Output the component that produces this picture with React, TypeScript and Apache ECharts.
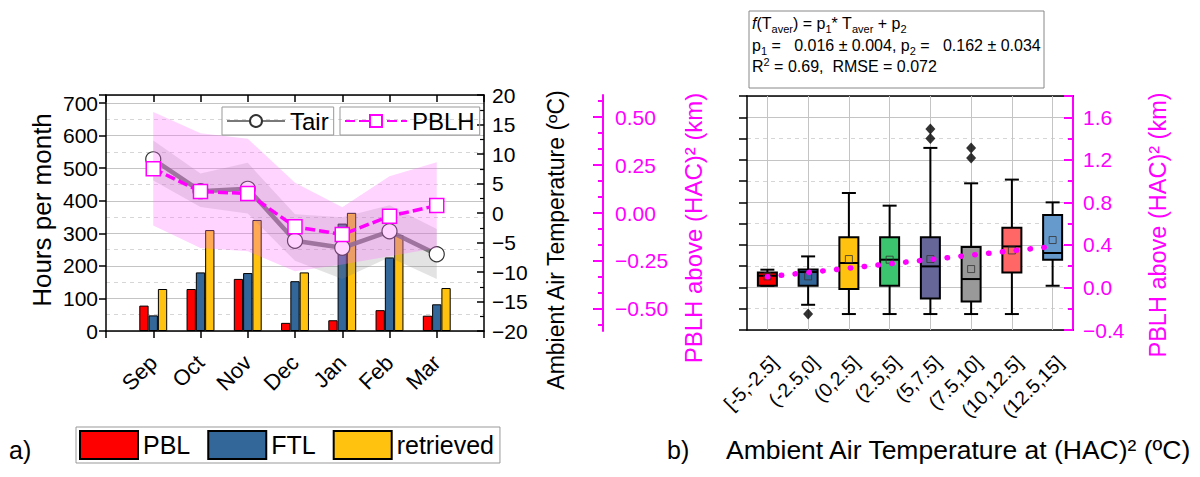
import React, { useEffect, useRef } from 'react';
import * as echarts from 'echarts';

// ---------- Panel a) data ----------
const MONTHS = ['Sep', 'Oct', 'Nov', 'Dec', 'Jan', 'Feb', 'Mar'];
const PBL = [78, 129, 160, 25, 33, 64, 47];
const FTL = [48, 180, 178, 153, 330, 226, 82];
const RETRIEVED = [129, 310, 341, 180, 363, 295, 132];
const TAIR = [9.1, 3.7, 4.1, -4.7, -5.9, -3.1, -7.0];
const TAIR_HI = [12.3, 6.7, 8.5, -0.2, -0.7, 1.3, -2.7];
const TAIR_LO = [5.5, 1.0, -0.1, -8.1, -11.2, -7.5, -11.2];
const PBLH = [0.231, 0.112, 0.102, -0.072, -0.112, -0.017, 0.039];
const PBLH_HI = [0.526, 0.415, 0.387, 0.158, 0.03, 0.192, 0.265];
const PBLH_LO = [-0.065, -0.182, -0.199, -0.304, -0.269, -0.225, -0.182];
const MAG_MAJOR = [-0.5, -0.25, 0, 0.25, 0.5];
const MAG_MINOR = [-0.5833, -0.4167, -0.3333, -0.1667, -0.0833, 0.0833, 0.1667, 0.3333, 0.4167, 0.5833];

// ---------- Panel b) data ----------
const CATS = ['[-5,-2.5]', '(-2.5,0]', '(0,2.5]', '(2.5,5]', '(5,7.5]', '(7.5,10]', '(10,12.5]', '(12.5,15]'];
const BOX_MIN = [0.016, -0.163, -0.25, -0.25, -0.25, -0.25, -0.25, 0.016];
const BOX_Q1 = [0.016, 0.016, -0.015, 0.016, -0.103, -0.132, 0.141, 0.261];
const BOX_MED = [0.11, 0.145, 0.23, 0.261, 0.198, 0.079, 0.386, 0.324];
const BOX_Q3 = [0.141, 0.169, 0.471, 0.471, 0.471, 0.38, 0.562, 0.681];
const BOX_MAX = [0.167, 0.292, 0.888, 0.769, 1.312, 0.979, 1.014, 0.8];
const BOX_MEAN = [0.104, 0.104, 0.267, 0.261, 0.267, 0.173, 0.348, 0.446];
const OUTLIERS = [[1, -0.25], [4, 1.4], [4, 1.49], [5, 1.218], [5, 1.312]];
const FIT_ENDS = [0.1, 0.385];
const BOX_COLORS = ['#FF0000', '#336699', '#FFC20E', '#3CC46E', '#666699', '#999999', '#FF6666', '#6699CC'];

const FONT = 'Liberation Sans, Arial, Helvetica, sans-serif';
const MAGENTA = '#FF00FF';
const minus = (s: string) => s.replace('-', '\u2212');
const pad = (a: number[]) => ['-', ...a, '-'];

export default function App() {
  const ref = useRef<HTMLDivElement>(null);
  useEffect(() => {
    if (!ref.current) return;
    const chart = echarts.init(ref.current, null, { renderer: 'svg' });
    const monthCats = ['', ...MONTHS, ''];
    const black = { color: '#000', width: 1.5 };

    const option: any = {
      animation: false,
      textStyle: { fontFamily: FONT },
      grid: [
        { left: 106, top: 95, width: 378, height: 236 },
        { left: 747, top: 96, width: 326, height: 234 },
      ],
      legend: [
        {
          data: ['Tair'], left: 222, top: 107, selectedMode: false,
          borderColor: '#999', borderWidth: 1, padding: [2, 5, 2, 4],
          itemWidth: 58, itemHeight: 15, textStyle: { fontSize: 24, color: '#000', fontFamily: FONT },
        },
        {
          data: ['PBLH'], left: 340, top: 107, selectedMode: false,
          borderColor: '#999', borderWidth: 1, padding: [2, 5, 2, 4],
          itemWidth: 62, itemHeight: 15, textStyle: { fontSize: 24, color: '#000', fontFamily: FONT },
        },
        {
          data: ['PBL', 'FTL', 'retrieved'], left: 76, top: 427, selectedMode: false, icon: 'rect',
          borderColor: '#999', borderWidth: 1, padding: [3, 6, 3, 3], itemGap: 17,
          itemWidth: 58, itemHeight: 28, textStyle: { fontSize: 25, color: '#000', fontFamily: FONT },
        },
      ],
      xAxis: [
        {
          type: 'category', gridIndex: 0, data: monthCats, boundaryGap: false, position: 'bottom',
          axisLine: { onZero: false, lineStyle: black },
          axisTick: { length: 7, lineStyle: black },
          axisLabel: { rotate: 45, fontSize: 22, color: '#000', margin: 28, interval: 0, fontFamily: FONT },
          splitLine: { show: false },
        },
        {
          type: 'category', gridIndex: 0, data: monthCats, boundaryGap: false, position: 'top',
          axisLine: { onZero: false, lineStyle: black },
          axisTick: { inside: true, length: 7, lineStyle: black },
          axisLabel: { show: false }, splitLine: { show: false },
        },
        {
          type: 'category', gridIndex: 1, data: CATS, position: 'bottom',
          axisLine: { onZero: false, lineStyle: black },
          axisTick: { alignWithLabel: true, length: 8, lineStyle: black },
          axisLabel: {
            rotate: 45, fontSize: 19.5, color: '#000', margin: 22, interval: 0, fontFamily: FONT,
            align: 'right', verticalAlign: 'top',
          },
          splitLine: { show: false },
        },
        {
          type: 'category', gridIndex: 1, data: CATS, position: 'top',
          axisLine: { onZero: false, lineStyle: black },
          axisTick: { alignWithLabel: true, inside: true, length: 8, lineStyle: black },
          axisLabel: { show: false }, splitLine: { show: false },
        },
      ],
      yAxis: [
        // 0 grid0 dashed gridlines
        {
          type: 'value', gridIndex: 0, position: 'left', min: 0, max: 725, interval: 50,
          axisLine: { show: false, onZero: false }, axisTick: { show: false }, axisLabel: { show: false },
          splitLine: { show: true, lineStyle: { color: '#d6d6d6', type: [4, 4], width: 1 } },
        },
        // 1 hours
        {
          type: 'value', gridIndex: 0, position: 'left', min: 0, max: 725, interval: 100,
          axisLine: { show: true, onZero: false, lineStyle: black },
          axisTick: { show: true, length: 7, lineStyle: black },
          axisLabel: {
            fontSize: 21, color: '#000', margin: 8, fontFamily: FONT,
            formatter: (v: number) => (v % 100 === 0 && v <= 700 ? String(v) : ''),
          },
          splitLine: { show: true, lineStyle: { color: '#c4c4c4', width: 1 } },
        },
        // 2 temperature
        {
          type: 'value', gridIndex: 0, position: 'right', min: -20, max: 20, interval: 5,
          axisLine: { show: true, onZero: false, lineStyle: black },
          axisTick: { show: true, inside: true, length: 7, lineStyle: black },
          minorTick: { show: true, splitNumber: 2, length: 4, lineStyle: { color: '#000', width: 1.2 } },
          axisLabel: { fontSize: 21, color: '#000', margin: 8, fontFamily: FONT, formatter: (v: number) => minus(String(v)) },
          splitLine: { show: false },
        },
        // 3 magenta major (panel a)
        {
          type: 'value', gridIndex: 0, position: 'right', offset: 119, min: -0.615, max: 0.615,
          axisLine: { show: true, onZero: false, lineStyle: { color: MAGENTA, width: 2 } },
          axisTick: { show: true, inside: true, length: 10, customValues: MAG_MAJOR, lineStyle: { color: MAGENTA, width: 2 } },
          axisLabel: {
            customValues: MAG_MAJOR, fontSize: 21, color: MAGENTA, margin: 12, fontFamily: FONT,
            formatter: (v: number) => minus(v.toFixed(2)),
          },
          splitLine: { show: false },
        },
        // 4 magenta minor (panel a)
        {
          type: 'value', gridIndex: 0, position: 'right', offset: 119, min: -0.615, max: 0.615,
          axisLine: { show: false, onZero: false },
          axisTick: { show: true, inside: true, length: 5, customValues: MAG_MINOR, lineStyle: { color: MAGENTA, width: 2 } },
          axisLabel: { show: false }, splitLine: { show: false },
        },
        // 5 grid1 left (ticks every 0.2, dashed grid)
        {
          type: 'value', gridIndex: 1, position: 'left', min: -0.4, max: 1.8, interval: 0.2,
          axisLine: { show: true, onZero: false, lineStyle: black },
          axisTick: { show: true, length: 8, lineStyle: black },
          axisLabel: { show: false },
          splitLine: { show: true, lineStyle: { color: '#d6d6d6', type: [4, 4], width: 1 } },
        },
        // 6 grid1 solid gridlines
        {
          type: 'value', gridIndex: 1, position: 'left', min: -0.4, max: 1.8, interval: 0.4,
          axisLine: { show: false, onZero: false }, axisTick: { show: false }, axisLabel: { show: false },
          splitLine: { show: true, lineStyle: { color: '#c4c4c4', width: 1 } },
        },
        // 7 grid1 magenta major
        {
          type: 'value', gridIndex: 1, position: 'right', min: -0.4, max: 1.8, interval: 0.4,
          axisLine: { show: true, onZero: false, lineStyle: { color: MAGENTA, width: 2 } },
          axisTick: { show: true, inside: true, length: 9, lineStyle: { color: MAGENTA, width: 2 } },
          axisLabel: {
            fontSize: 21, color: MAGENTA, margin: 10, fontFamily: FONT,
            formatter: (v: number) => (v > 1.7 ? '' : minus(v.toFixed(1))),
          },
          splitLine: { show: false },
        },
        // 8 grid1 magenta minor
        {
          type: 'value', gridIndex: 1, position: 'right', min: -0.4, max: 1.8, interval: 0.2,
          axisLine: { show: false, onZero: false },
          axisTick: { show: true, inside: true, length: 5, lineStyle: { color: MAGENTA, width: 2 } },
          axisLabel: { show: false }, splitLine: { show: false },
        },
      ],
      series: [
        {
          name: 'PBL', type: 'bar', xAxisIndex: 0, yAxisIndex: 1, data: pad(PBL), barWidth: 9.3, barGap: '0%', z: 2,
          itemStyle: { color: '#FF0000', borderColor: '#000', borderWidth: 1 },
        },
        {
          name: 'FTL', type: 'bar', xAxisIndex: 0, yAxisIndex: 1, data: pad(FTL), barWidth: 9.3, barGap: '0%', z: 2,
          itemStyle: { color: '#336699', borderColor: '#000', borderWidth: 1 },
        },
        {
          name: 'retrieved', type: 'bar', xAxisIndex: 0, yAxisIndex: 1, data: pad(RETRIEVED), barWidth: 9.3, barGap: '0%', z: 2,
          itemStyle: { color: '#FFC20E', borderColor: '#000', borderWidth: 1 },
        },
        {
          name: 'tairLo', type: 'line', xAxisIndex: 0, yAxisIndex: 2, stack: 'tairBand', stackStrategy: 'all',
          data: pad(TAIR_LO), symbol: 'none', lineStyle: { opacity: 0 }, z: 3, silent: true,
        },
        {
          name: 'tairBand', type: 'line', xAxisIndex: 0, yAxisIndex: 2, stack: 'tairBand', stackStrategy: 'all',
          data: pad(TAIR_HI.map((h, i) => h - TAIR_LO[i])), symbol: 'none', lineStyle: { opacity: 0 },
          areaStyle: { color: 'rgba(128,128,128,0.32)' }, z: 3, silent: true,
        },
        {
          name: 'Tair', type: 'line', xAxisIndex: 0, yAxisIndex: 2, data: pad(TAIR), z: 4,
          symbol: 'circle', symbolSize: 15,
          lineStyle: { color: '#6a6a6a', width: 4.5, opacity: 0.9 },
          itemStyle: { color: '#ffffff', borderColor: '#333', borderWidth: 1.2 },
        },
        {
          name: 'pblhLo', type: 'line', xAxisIndex: 0, yAxisIndex: 3, stack: 'pblhBand', stackStrategy: 'all',
          data: pad(PBLH_LO), symbol: 'none', lineStyle: { opacity: 0 }, z: 5, silent: true,
        },
        {
          name: 'pblhBand', type: 'line', xAxisIndex: 0, yAxisIndex: 3, stack: 'pblhBand', stackStrategy: 'all',
          data: pad(PBLH_HI.map((h, i) => h - PBLH_LO[i])), symbol: 'none', lineStyle: { opacity: 0 },
          areaStyle: { color: 'rgba(255,110,255,0.42)' }, z: 5, silent: true,
        },
        {
          name: 'PBLH', type: 'line', xAxisIndex: 0, yAxisIndex: 3, data: pad(PBLH), z: 6,
          symbol: 'rect', symbolSize: 14,
          lineStyle: { color: MAGENTA, width: 3.5, type: [10, 4] },
          itemStyle: { color: '#ffffff', borderColor: MAGENTA, borderWidth: 1.5 },
        },
        {
          name: 'boxes', type: 'custom', xAxisIndex: 2, yAxisIndex: 5, z: 3,
          data: CATS.map((_, i) => [i, BOX_MIN[i], BOX_Q1[i], BOX_MED[i], BOX_Q3[i], BOX_MAX[i]]),
          encode: { x: 0, y: [1, 2, 3, 4, 5] },
          renderItem: (params: any, api: any) => {
            const i = api.value(0);
            const c = (v: number) => api.coord([i, v]);
            const [xc, yMin] = c(api.value(1));
            const yQ1 = c(api.value(2))[1];
            const yMed = c(api.value(3))[1];
            const yQ3 = c(api.value(4))[1];
            const yMax = c(api.value(5))[1];
            const bw = 19;
            const cw = 14;
            const st = { stroke: '#000', lineWidth: 2 };
            return {
              type: 'group',
              children: [
                { type: 'line', shape: { x1: xc, y1: yMax, x2: xc, y2: yQ3 }, style: st },
                { type: 'line', shape: { x1: xc, y1: yQ1, x2: xc, y2: yMin }, style: st },
                { type: 'line', shape: { x1: xc - cw / 2, y1: yMax, x2: xc + cw / 2, y2: yMax }, style: st },
                { type: 'line', shape: { x1: xc - cw / 2, y1: yMin, x2: xc + cw / 2, y2: yMin }, style: st },
                {
                  type: 'rect', shape: { x: xc - bw / 2, y: yQ3, width: bw, height: yQ1 - yQ3 },
                  style: { fill: BOX_COLORS[params.dataIndex], stroke: '#000', lineWidth: 2 },
                },
                { type: 'line', shape: { x1: xc - bw / 2, y1: yMed, x2: xc + bw / 2, y2: yMed }, style: st },
              ],
            };
          },
        },
        {
          name: 'outliers', type: 'scatter', xAxisIndex: 2, yAxisIndex: 5, z: 4,
          data: OUTLIERS, symbol: 'diamond', symbolSize: [10, 11], itemStyle: { color: '#000' },
        },
        {
          name: 'means', type: 'scatter', xAxisIndex: 2, yAxisIndex: 5, z: 4,
          data: BOX_MEAN.map((v, i) => [i, v]), symbol: 'rect', symbolSize: 7,
          itemStyle: { color: 'rgba(255,255,255,0)', borderColor: '#333', borderWidth: 1 },
        },
        {
          name: 'fit', type: 'line', xAxisIndex: 2, yAxisIndex: 7, z: 5, connectNulls: true, symbol: 'none',
          data: CATS.map((_, i) => (i === 0 ? FIT_ENDS[0] : i === CATS.length - 1 ? FIT_ENDS[1] : '-')),
          lineStyle: { color: MAGENTA, width: 5.5, type: [0.5, 13.4], cap: 'round' },
        },
        {
          name: 'vgrid', type: 'scatter', xAxisIndex: 2, yAxisIndex: 5, z: 1, data: [], silent: true,
          markLine: {
            silent: true, z: 1, symbol: ['none', 'none'], label: { show: false },
            lineStyle: { color: '#c4c4c4', type: 'solid', width: 1 },
            data: CATS.map((cat) => ({ xAxis: cat })),
          },
        },
      ],
      graphic: [
        {
          type: 'text', x: 42, y: 210, rotation: Math.PI / 2,
          style: { text: 'Hours per month', font: `26px ${FONT}`, fill: '#000', align: 'center', verticalAlign: 'middle' },
        },
        {
          type: 'text', x: 556, y: 240, rotation: Math.PI / 2,
          style: { text: 'Ambient Air Temperature (\u00baC)', font: `23px ${FONT}`, fill: '#000', align: 'center', verticalAlign: 'middle' },
        },
        {
          type: 'text', x: 693, y: 228, rotation: Math.PI / 2,
          style: { text: 'PBLH above (HAC)\u00b2 (km)', font: `24px ${FONT}`, fill: MAGENTA, align: 'center', verticalAlign: 'middle' },
        },
        {
          type: 'text', x: 1158, y: 225, rotation: Math.PI / 2,
          style: { text: 'PBLH above (HAC)\u00b2 (km)', font: `23.5px ${FONT}`, fill: MAGENTA, align: 'center', verticalAlign: 'middle' },
        },
        {
          type: 'text', x: 9, y: 450,
          style: { text: 'a)', font: `25px ${FONT}`, fill: '#000', align: 'left', verticalAlign: 'middle' },
        },
        {
          type: 'text', x: 667, y: 450,
          style: { text: 'b)', font: `25px ${FONT}`, fill: '#000', align: 'left', verticalAlign: 'middle' },
        },
        {
          type: 'text', x: 726, y: 450,
          style: { text: 'Ambient Air Temperature at (HAC)\u00b2 (\u00baC)', font: `26.5px ${FONT}`, fill: '#000', align: 'left', verticalAlign: 'middle' },
        },
        {
          type: 'rect', shape: { x: 749, y: 11, width: 295, height: 77 },
          style: { fill: '#fff', stroke: '#888', lineWidth: 1 },
        },
        {
          type: 'text', x: 752, y: 13,
          style: {
            text: '{i|f}(T{s|aver}) = p{s|1}* T{s|aver} + p{s|2}\np{s|1} =   0.016 \u00b1 0.004, p{s|2} =   0.162 \u00b1 0.034\nR{u|2} = 0.69,  RMSE = 0.072',
            fontFamily: FONT, fontSize: 16, lineHeight: 21.5, fill: '#000', align: 'left', verticalAlign: 'top',
            rich: {
              i: { fontStyle: 'italic', fontSize: 16, fontFamily: FONT, lineHeight: 21.5 },
              s: { fontSize: 11, fontFamily: FONT, lineHeight: 11, verticalAlign: 'bottom' },
              u: { fontSize: 11, fontFamily: FONT, lineHeight: 11, verticalAlign: 'top' },
            },
          },
        },
      ],
    };
    chart.setOption(option);
    return () => chart.dispose();
  }, []);
  return <div ref={ref} style={{ position: 'absolute', left: 0, top: 0, width: 1200, height: 477 }} />;
}
